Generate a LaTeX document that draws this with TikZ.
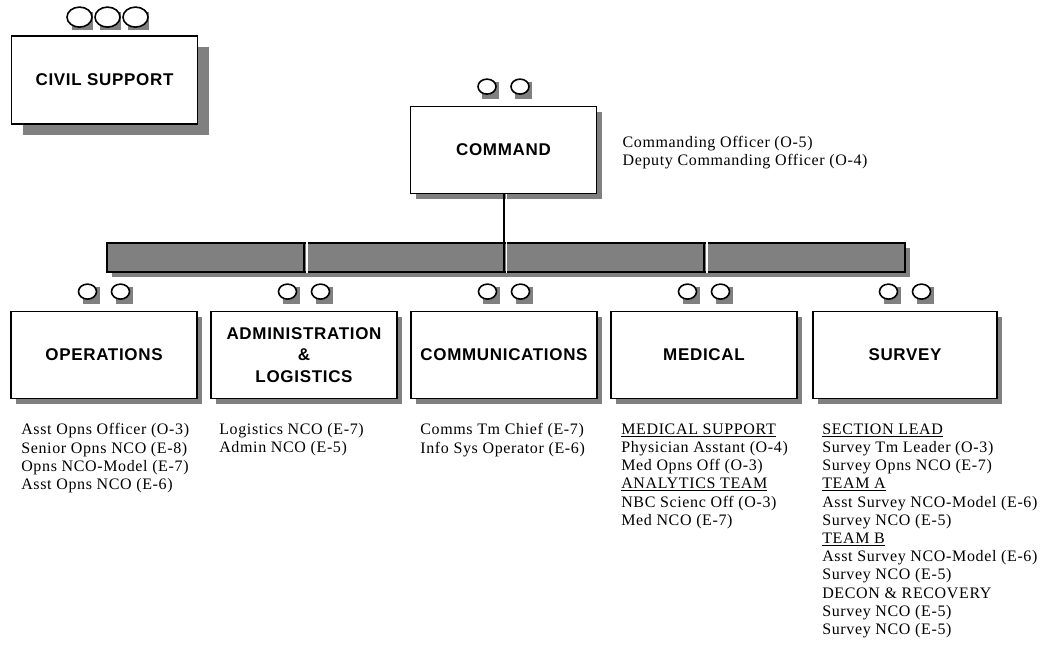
\documentclass[tikz,border=0pt]{standalone}
\usepackage{fontspec}
\setmainfont[LetterSpace=4]{Liberation Serif}
\newfontfamily\labelfont[LetterSpace=4]{Liberation Sans}
\usetikzlibrary{positioning,shadows,shapes.geometric}

\begin{document}
\begin{tikzpicture}[x=1pt,y=-1pt,
	unit/.style={draw,line width=1.8pt,fill=white,minimum width=186pt,minimum height=87pt,inner sep=2pt,align=center,
		font=\labelfont\bfseries\fontsize{17}{21.5}\selectfont,
		drop shadow={shadow xshift=#1,shadow yshift=-#1,fill=gray,opacity=1}},
	unit/.default=5pt,
	roster/.style={anchor=north west,align=left,inner sep=0pt,font=\fontsize{16}{18.2}\selectfont},
	pip/.style={ellipse,draw,line width=1.6pt,fill=white,minimum width=18pt,minimum height=15pt,inner sep=0pt},
	pipshade/.style={fill=gray,minimum width=17pt,minimum height=17pt,inner sep=0pt},
	link/.style={line width=2pt,postaction={draw=white,line width=1.2pt,transform canvas={xshift=3pt}}}]

	\useasboundingbox (0,0) rectangle (1047,654);

	\node[unit=11pt,minimum height=88pt] (civil) at (104.5,80) {CIVIL SUPPORT};
	\node[unit] (cmd) at (503.5,150) {COMMAND};

	\node[draw,line width=1.8pt,fill=gray,minimum width=798pt,minimum height=29pt,inner sep=0pt,
		drop shadow={shadow xshift=5pt,shadow yshift=-5pt,fill=gray,opacity=1}] (bar) at (506,257.5) {};

	\node[unit] (ops) at (104,355) {OPERATIONS};
	\node[unit] (adm) at (304,355) {ADMINISTRATION\\\&\\LOGISTICS};
	\node[unit] (com) at (504,355) {COMMUNICATIONS};
	\node[unit] (med) at (704,355) {MEDICAL};
	\node[unit,minimum width=184pt] (srv) at (905,355) {SURVEY};

	\draw[link] (cmd.south) -- (cmd.south |- bar.south);
	\draw[link] (bar.north -| adm) -- (bar.south -| adm);
	\draw[link] (bar.north -| med) -- (bar.south -| med);

	\foreach \s [count=\i] in {-25,3,31}{
		\node[pipshade,minimum width=21pt,minimum height=18pt] (civil-sh\i) at ([xshift={\s+3},yshift=14pt]civil.north) {};
		\node[pip,minimum width=25pt,minimum height=20pt] (civil-pip\i) at ([xshift=\s,yshift=18pt]civil.north) {};
	}
	\foreach \b in {cmd,ops,adm,com,med,srv}{
		\foreach \s [count=\i] in {-16.5,16.5}{
			\node[pipshade] (\b-sh\i) at ([xshift={\s+3.5},yshift=15pt]\b.north) {};
			\node[pip] (\b-pip\i) at ([xshift=\s,yshift=19pt]\b.north) {};
		}
	}

	\node[roster] (cmdstaff) at ([xshift=25pt,yshift=14pt]cmd.east) {Commanding Officer (O-5)\\Deputy Commanding Officer (O-4)};

	\node[roster] (opsstaff) at ([xshift=11pt,yshift=-24pt]ops.south west) {Asst Opns Officer (O-3)\\Senior Opns NCO (E-8)\\Opns NCO-Model (E-7)\\Asst Opns NCO (E-6)};
	\node[roster] (admstaff) at ([xshift=9pt,yshift=-24pt]adm.south west) {Logistics NCO (E-7)\\Admin NCO (E-5)};
	\node[roster] (comstaff) at ([xshift=10pt,yshift=-24pt]com.south west) {Comms Tm Chief (E-7)\\Info Sys Operator (E-6)};
	\node[roster] (medstaff) at ([xshift=11pt,yshift=-24pt]med.south west) {\underline{MEDICAL SUPPORT}\\Physician Asstant (O-4)\\Med Opns Off (O-3)\\\underline{ANALYTICS TEAM}\\NBC Scienc Off (O-3)\\Med NCO (E-7)};
	\node[roster] (srvstaff) at ([xshift=10pt,yshift=-24pt]srv.south west) {\underline{SECTION LEAD}\\Survey Tm Leader (O-3)\\Survey Opns NCO (E-7)\\\underline{TEAM A}\\Asst Survey NCO-Model (E-6)\\Survey NCO (E-5)\\\underline{TEAM B}\\Asst Survey NCO-Model (E-6)\\Survey NCO (E-5)\\DECON \& RECOVERY\\Survey NCO (E-5)\\Survey NCO (E-5)};

\end{tikzpicture}
\end{document}
